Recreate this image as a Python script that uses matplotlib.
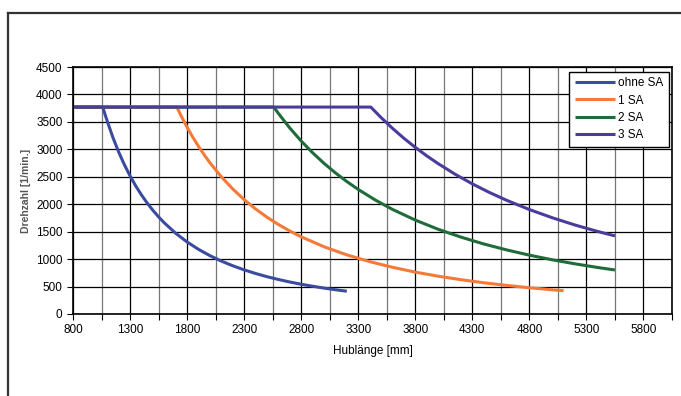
import matplotlib.pyplot as plt
from matplotlib.lines import Line2D
import numpy as np

plt.rcParams['font.family'] = ['Liberation Sans', 'DejaVu Sans']

# Hublaenge [mm] / Drehzahl [1/min.]
x_ohne = [800, 1060, 1100, 1150, 1200, 1250, 1300, 1350, 1400, 1450, 1500, 1550, 1600, 1700, 1800,
          1900, 2000, 2100, 2200, 2300, 2400, 2500, 2600, 2700, 2800, 2900, 3000, 3100, 3200]
y_ohne = [3770, 3770, 3514, 3215, 2953, 2721, 2516, 2333, 2169, 2022, 1890, 1770, 1661, 1471, 1312,
          1178, 1063, 964, 879, 804, 738, 680, 629, 583, 542, 506, 472, 442, 415]

x_1sa = [800, 1710, 1750, 1800, 1850, 1900, 1950, 2000, 2100, 2200, 2300, 2400, 2500, 2600, 2700,
         2800, 3000, 3200, 3400, 3600, 3800, 4000, 4200, 4400, 4600, 4800, 5000, 5100]
y_1sa = [3770, 3770, 3600, 3402, 3221, 3054, 2899, 2756, 2500, 2278, 2084, 1914, 1764, 1631, 1512,
         1406, 1225, 1077, 954, 851, 763, 689, 625, 569, 521, 478, 441, 424]

x_2sa = [800, 2560, 2600, 2700, 2800, 2900, 3000, 3100, 3200, 3300, 3450, 3600, 3800, 4000, 4200,
         4400, 4600, 4800, 5000, 5200, 5400, 5550]
y_2sa = [3770, 3770, 3655, 3389, 3151, 2938, 2745, 2571, 2413, 2269, 2076, 1906, 1711, 1544, 1401,
         1276, 1168, 1072, 988, 914, 847, 802]

x_3sa = [800, 3410, 3500, 3600, 3700, 3800, 3900, 4000, 4150, 4300, 4450, 4600, 4800, 5000, 5200,
         5400, 5550]
y_3sa = [3770, 3770, 3579, 3383, 3202, 3036, 2882, 2740, 2545, 2371, 2214, 2072, 1903, 1754, 1621,
         1503, 1423]

labels = ['ohne SA', '1 SA', '2 SA', '3 SA']
colors = ['#3a4ba0', '#f57a38', '#1f6b3a', '#4b3b9c']

fig = plt.figure(figsize=(6.81, 3.96), dpi=100)
ax = fig.add_axes([73/681, 1-314/396, (672-73)/681, (314-67)/396])

for xs, ys, lab, c in zip([x_ohne, x_1sa, x_2sa, x_3sa], [y_ohne, y_1sa, y_2sa, y_3sa], labels, colors):
    ax.plot(xs, ys, color=c, lw=2.2, label=lab, solid_capstyle='butt', solid_joinstyle='round')

ax.set_xlim(800, 6050)
ax.set_ylim(0, 4500)
ax.set_xticks(np.arange(800, 6000, 500))
ax.set_xticks(np.arange(1050, 6100, 500), minor=True)
ax.set_yticks(np.arange(0, 4501, 500))
ax.grid(which='major', color='black', lw=0.9)
ax.grid(which='minor', axis='x', color='#777777', lw=0.9)
ax.set_axisbelow(True)
ax.tick_params(which='both', direction='out', length=4, width=0.8, labelsize=8.5, colors='black')
for s in ax.spines.values():
    s.set_linewidth(1.2)

ax.set_xlabel('Hublänge [mm]', fontsize=8.5, labelpad=6)
ax.set_ylabel('Drehzahl [1/min.]', fontsize=7.5, fontweight='bold', color='#555555', labelpad=4)

leg = ax.legend(loc='upper right', bbox_to_anchor=(0.995, 0.98), fontsize=8.5, frameon=True,
                fancybox=False, handlelength=3.4, handletextpad=0.3, borderpad=0.45,
                labelspacing=0.45, borderaxespad=0.0)
leg.get_frame().set_edgecolor('black')
leg.get_frame().set_linewidth(1.0)
leg.get_frame().set_alpha(1)

# outer frame (left and top edges of the surrounding box)
fig.add_artist(Line2D([8/681, 8/681], [1-13/396, 0], color='#333333', lw=1.6))
fig.add_artist(Line2D([8/681, 1], [1-13/396, 1-13/396], color='#333333', lw=1.6))

plt.savefig('out.png', dpi=100)
